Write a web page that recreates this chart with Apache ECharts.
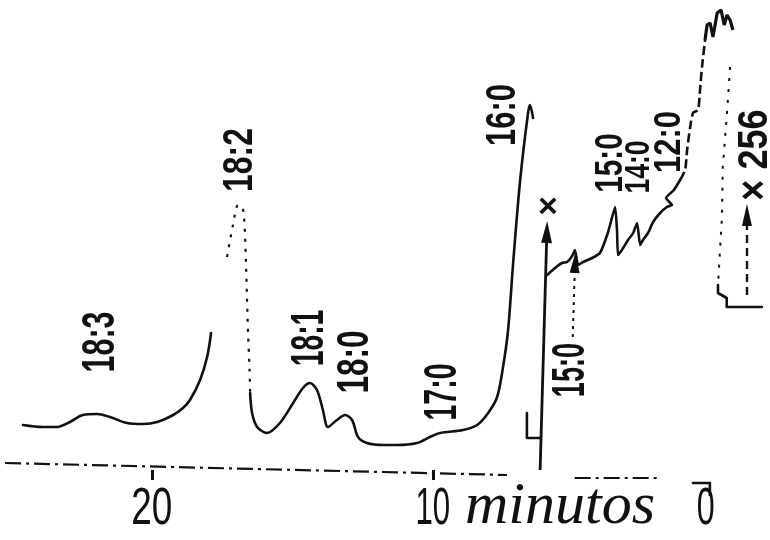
<!DOCTYPE html>
<html>
<head>
<meta charset="utf-8">
<script src="https://cdn.jsdelivr.net/npm/echarts@6/dist/echarts.min.js"></script>
<style>
html,body{margin:0;padding:0;background:#fff;}
#chart{width:770px;height:540px;}
</style>
</head>
<body>
<div id="chart"></div>
<script>
// ---- data (x = minutes, y = detector signal, arbitrary units) ----
const seg18_3 = [[24.58,45],[23.87,43],[23.37,43],[22.91,48],[22.45,55],[21.95,56],[21.49,53],[20.88,47],[20.31,46],[19.81,48],[19.24,55],[18.89,62],[18.64,70],[18.28,90],[18.03,113],[17.89,137]];
const seg18_2 = [[17.32,213],[17.11,245],[16.93,265],[16.79,263],[16.72,255],[16.65,210],[16.61,170],[16.57,135],[16.52,100],[16.50,77]];
const segMain = [[16.50,77],[16.43,57],[16.25,43],[15.90,37],[15.44,47],[14.97,67],[14.62,82],[14.37,87],[14.12,80],[13.91,60],[13.73,43],[13.41,50],[13.12,55],[12.87,50],[12.66,33],[12.34,27],[11.77,25],[11.27,25],[10.56,27],[10.10,33],[9.74,37],[8.92,40],[8.42,45],[8.03,57],[7.71,73],[7.50,103],[7.32,140],[7.14,207],[6.89,290],[6.61,357],[6.54,365],[6.43,352]];
const segX256 = [[5.93,195],[5.65,202],[5.40,207],[5.22,208],[5.04,214],[4.94,220],[4.83,205],[4.65,208],[4.33,212],[4.05,217],[3.76,238],[3.51,263],[3.44,237],[3.41,215],[3.27,220],[3.05,230],[2.87,237],[2.73,247],[2.62,225],[2.52,230],[2.34,237],[2.16,248],[1.91,257],[1.67,263],[1.49,265],[1.70,272],[1.42,280],[1.20,290]];
const segRise = [[1.20,290],[1.02,300],[0.95,320],[0.84,343],[0.74,357],[0.56,360],[0.49,380],[0.42,403],[0.31,430]];
const segTop = [[0.31,430],[0.24,445],[0.13,447],[0.03,433],[-0.12,457],[-0.26,460],[-0.37,445],[-0.47,455],[-0.58,450],[-0.68,440]];
const segAtten = [[-0.58,403],[-0.46,353],[-0.32,303],[-0.29,253],[-0.15,185]];
const segStep = [[-0.15,185],[-0.15,177],[-0.46,172],[-0.46,163],[-1.71,163]];
const markFoot = [[6.65,57],[6.65,32],[6.18,32]];
const markZero = [[0.74,-13],[0.14,-13],[0.14,-25]];
const baseA = [[25.22,7],[7.36,-5]];
const baseB = [[4.95,-8],[1.92,-8]];
const arrowX = [[6.18,0],[5.94,238]];
const arrow15 = [[5.02,133],[4.94,207]];
const arrow256 = [[-1.18,175],[-1.18,255]];
const tickValues = [20, 10];
const tickLabels = ['20', '10', '0'];
const peakLabels = ['18:3','18:2','18:1','18:0','17:0','16:0','15:0','14:0','12:0','15:0','× 256'];

const INK = '#111';
const chart = echarts.init(document.getElementById('chart'), null, {renderer:'canvas'});

function lineSeries(data, opts) {
  return Object.assign({
    type:'line', data:data, symbol:'none', silent:true, animation:false,
    lineStyle:{color:INK, width:2.6, type:'solid', cap:'round', join:'round'}
  }, opts || {});
}

// label layout (pixel centre, font size, horizontal condensing, weight)
const labelLayout = [
  [101,342,46,0.66,'bold'],
  [240,160,42,0.76,'bold'],
  [310,338,47,0.60,'bold'],
  [356,362,45,0.70,'bold'],
  [443,392,46,0.62,'bold'],
  [503,115,43,0.72,'bold'],
  [611,163,39,0.76,'bold'],
  [639,167,35,0.76,'bold'],
  [670,142,36,0.86,'bold'],
  [571,370,46,0.59,'bold'],
  [755,155,42,0.86,'bold']
];
const graphics = peakLabels.map((t,i)=>{
  const L = labelLayout[i];
  return {type:'text', x:L[0], y:L[1], rotation:Math.PI/2, scaleX:L[3], scaleY:1, silent:true,
    style:{text:t, font:L[4]+' '+L[2]+'px "Liberation Sans", Arial, sans-serif', fill:INK,
      align:'center', verticalAlign:'middle', textAlign:'center', textVerticalAlign:'middle'}};
});
graphics.push({type:'text', x:548, y:208, silent:true,
  style:{text:'×', font:'bold 34px "Liberation Sans", Arial, sans-serif', fill:INK, align:'center', verticalAlign:'middle'}});

const option = {
  backgroundColor:'#fff',
  animation:false,
  grid:{left:0,right:0,top:0,bottom:0},
  xAxis:{type:'value', min:-2, max:25.4, inverse:true,
    axisLine:{show:false, onZero:true},
    axisTick:{show:true, customValues:tickValues, length:10, lineStyle:{color:INK, width:3}},
    axisLabel:{show:false}, splitLine:{show:false}},
  yAxis:{type:'value', min:-70, max:470, show:false, splitLine:{show:false}},
  series:[
    lineSeries(baseA, {lineStyle:{color:INK, width:2.2, type:[16,5,3,5]}}),
    lineSeries(baseB, {lineStyle:{color:INK, width:2.2, type:[16,5,3,5]}}),
    lineSeries(seg18_3, {smooth:0.35}),
    lineSeries(seg18_2, {smooth:0.3, lineStyle:{color:INK, width:2.2, type:[3,7]}}),
    lineSeries(segMain, {smooth:0.3}),
    lineSeries(segX256, {smooth:0.15}),
    lineSeries(segRise, {smooth:0.2, lineStyle:{color:INK, width:2.6, type:[9,4]}}),
    lineSeries(segTop, {lineStyle:{color:INK, width:3.2}}),
    lineSeries(segAtten, {lineStyle:{color:INK, width:2, type:[3,8]}}),
    lineSeries(segStep, {}),
    lineSeries(markFoot, {}),
    lineSeries(markZero, {}),
    {type:'line', data:[], silent:true, animation:false,
      markLine:{silent:true, animation:false, symbol:['none','triangle'], symbolSize:[11,22],
        label:{show:false},
        data:[
          [{coord:arrowX[0], lineStyle:{color:INK,width:2.8,type:'solid'}},{coord:arrowX[1], symbol:'triangle', symbolSize:[11,22]}],
          [{coord:arrow15[0], lineStyle:{color:INK,width:2,type:[3,5]}},{coord:arrow15[1], symbol:'triangle', symbolSize:[10,20]}],
          [{coord:arrow256[0], lineStyle:{color:INK,width:2.4,type:[8,5]}},{coord:arrow256[1], symbol:'triangle', symbolSize:[10,22]}]
        ]}}
  ],
  graphic:graphics
};
chart.setOption(option);

// tick labels positioned through the axis scale
const labelDefs = [[20,0.71,0],[10,0.60,0],[0,0.62,-8]];
const extra = labelDefs.map((d,i)=>{
  const px = chart.convertToPixel({xAxisIndex:0}, d[0]) + d[2];
  return {type:'text', x:px, y:510, scaleX:d[1], silent:true,
    style:{text:tickLabels[i], font:'normal 52px "Liberation Sans", Arial, sans-serif', fill:INK,
      align:'center', verticalAlign:'middle'}};
});
extra.push({type:'text', x:560, y:507, scaleX:1.0, silent:true,
  style:{text:'minutos', font:'italic 60px "Liberation Serif", "DejaVu Serif", serif', fill:INK,
    align:'center', verticalAlign:'middle'}});
chart.setOption({graphic:graphics.concat(extra)});
</script>
</body>
</html>
